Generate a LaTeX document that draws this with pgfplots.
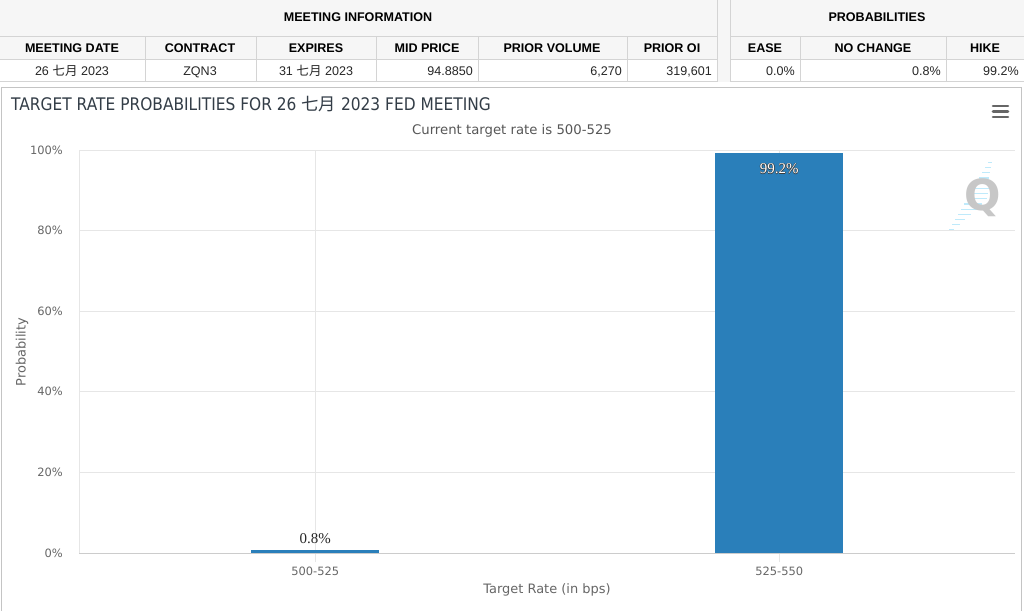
\documentclass[border=0pt]{standalone}
\usepackage{pgfplots}
\pgfplotsset{compat=1.18}
\usepackage{fontspec}
\setmainfont{Liberation Sans}
\newfontfamily\cjk{Noto Sans CJK SC}
\newfontfamily\hc{DejaVu Sans}
\newfontfamily\hctitle[FakeStretch=0.89]{DejaVu Sans}
\newfontfamily\lbl{Liberation Serif}

\definecolor{barblue}{RGB}{42,127,186}
\definecolor{hdrbg}{RGB}{246,246,246}
\definecolor{rule}{RGB}{212,212,212}
\definecolor{panel}{RGB}{196,196,196}
\definecolor{gridc}{RGB}{230,230,230}
\definecolor{axisc}{RGB}{204,204,204}
\definecolor{txt}{RGB}{102,102,102}
\definecolor{titlec}{RGB}{51,61,71}
\definecolor{haloc}{RGB}{60,60,60}

% white label with a thin dark outline
\newcommand\halo[1]{\leavevmode
  \rlap{\kern0.6bp\textcolor{haloc}{#1}}%
  \rlap{\kern-0.6bp\textcolor{haloc}{#1}}%
  \rlap{\raisebox{0.6bp}{\textcolor{haloc}{#1}}}%
  \rlap{\raisebox{-0.6bp}{\textcolor{haloc}{#1}}}%
  \textcolor{white}{#1}}

\newcommand\fs[1]{\fontsize{#1}{#1}\selectfont}

\begin{document}
\begin{tikzpicture}
% page, table, frame
\begin{scope}[x=1bp,y=-1bp]
  \fill[white] (0,0) rectangle (1024,611);
  \useasboundingbox (0,0) rectangle (1024,611);
  \fill[hdrbg] (0,0) rectangle (1024,60);
  \fill[hdrbg] (717,0) rectangle (730,82);
  \foreach \y in {37,60,82} {
    \draw[rule, line width=1bp] (0,\y) -- (717,\y);
    \draw[rule, line width=1bp] (730,\y) -- (1024,\y);
  }
  \foreach \x in {145,256,376,478,627,800,946}
    \draw[rule, line width=1bp] (\x,37) -- (\x,82);
  \draw[rule, line width=1bp] (717,0) -- (717,82);
  \draw[rule, line width=1bp] (730,0) -- (730,82);

  \begin{scope}[every node/.style={font=\bfseries\fs{12.6}, inner sep=0pt}]
    \node at (358,17.5) {MEETING INFORMATION};
    \node at (877,17.5) {PROBABILITIES};
    \node at (72,48.5) {MEETING DATE};
    \node at (200,48.5) {CONTRACT};
    \node at (316,48.5) {EXPIRES};
    \node at (427,48.5) {MID PRICE};
    \node at (552,48.5) {PRIOR VOLUME};
    \node at (672,48.5) {PRIOR OI};
    \node at (765,48.5) {EASE};
    \node at (873,48.5) {NO CHANGE};
    \node at (985,48.5) {HIKE};
  \end{scope}
  \begin{scope}[every node/.style={font=\fs{12.6}, inner sep=0pt, text=black!85}]
    \node[anchor=base] at (72,76) {26 {\cjk 七月} 2023};
    \node[anchor=base] at (200,76) {ZQN3};
    \node[anchor=base] at (316,76) {31 {\cjk 七月} 2023};
    \node[anchor=base east] at (473,76) {94.8850};
    \node[anchor=base east] at (622,76) {6,270};
    \node[anchor=base east] at (712,76) {319,601};
    \node[anchor=base east] at (795,76) {0.0\%};
    \node[anchor=base east] at (941,76) {0.8\%};
    \node[anchor=base east] at (1019,76) {99.2\%};
  \end{scope}

  \draw[panel, line width=1.5bp] (1.5,611) -- (1.5,87.5) -- (1021.5,87.5) -- (1021.5,611);

  \node[anchor=base west, inner sep=0pt, text=titlec, font=\hctitle\fs{17.4}]
    at (11,111) {TARGET RATE PROBABILITIES FOR 26 {\cjk 七月} 2023 FED MEETING};
  \node[anchor=base, inner sep=0pt, text=txt!85!black, font=\hc\fs{13.3}]
    at (512,134.5) {Current target rate is 500-525};
  \node[rotate=90, inner sep=0pt, text=txt, font=\hc\fs{13}] at (22,352) {Probability};
  \node[inner sep=0pt, text=txt, font=\hc\fs{13}] at (547,590) {Target Rate (in bps)};

  % menu icon
  \foreach \y in {106,111.5,117}
    \draw[txt, line width=2.6bp, line cap=round] (993,\y) -- (1008,\y);

  % logo
  \foreach \i/\l in {0/5,1/8,2/10,3/13,4/16,5/18,6/20,7/18,8/16,9/13,10/10,11/8,12/6,13/4} {
    \draw[cyan!25, line width=1.2bp] ({949+\i*3},{230-\i*5.2}) -- ++(\l,0);
  }
  \node[text=black!22, font=\hc\bfseries\fs{43}, inner sep=0pt] at (983,198) {Q};
\end{scope}

\begin{axis}[
  at={(79bp,-553bp)}, anchor=south west,
  scale only axis, width=936bp, height=403bp,
  xmin=-0.509, xmax=1.508, ymin=0, ymax=100,
  axis x line=bottom, axis y line=left,
  x axis line style={-, draw=axisc, line width=1bp},
  y axis line style={-, draw=gridc, line width=1bp},
  xtick={0,1}, xticklabels={500-525,525-550},
  ytick={0,20,40,60,80,100},
  /pgf/number format/assume math mode=true,
  yticklabel={\pgfmathprintnumber{\tick}\%},
  xmajorgrids, ymajorgrids,
  grid style={draw=gridc, line width=1bp},
  tick align=outside, major tick length=9bp,
  xtick style={draw=gridc, line width=1bp},
  ytick style={draw=none},
  ticklabel style={font=\hc\fs{11.5}, text=txt, inner sep=0pt},
  xticklabel style={yshift=-5bp},
  yticklabel style={xshift=-7bp},
  clip=false,
]
\addplot[ybar, bar width=128bp, fill=barblue, draw=none,
  nodes near coords={\pgfmathprintnumber{\pgfplotspointmeta}\%},
  nodes near coords style={font=\lbl\fs{15}, text=black!85, yshift=2.5bp}]
  coordinates {(0,0.8)};
\addplot[ybar, bar width=128bp, fill=barblue, draw=none,
  nodes near coords={\halo{\pgfmathprintnumber{\pgfplotspointmeta}\%}},
  nodes near coords style={font=\lbl\fs{15}, yshift=-25bp}]
  coordinates {(1,99.2)};
\end{axis}
\end{tikzpicture}
\end{document}
